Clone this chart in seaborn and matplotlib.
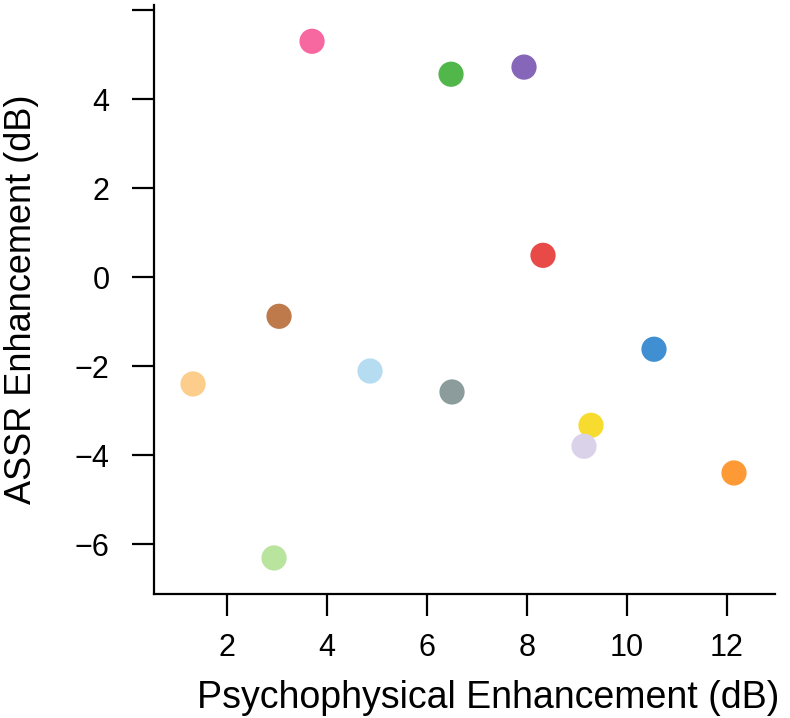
import matplotlib
matplotlib.use("Agg")
import matplotlib.pyplot as plt
import seaborn as sns
import pandas as pd

psych = [3.70, 6.48, 7.94, 8.32, 3.04, 10.54, 1.32, 4.86, 6.50, 9.28, 9.14, 12.14, 2.94]
assr = [5.30, 4.56, 4.72, 0.49, -0.88, -1.62, -2.40, -2.11, -2.58, -3.33, -3.80, -4.40, -6.31]
subjects = [f"S{i+1}" for i in range(len(psych))]
colors = ["#F768A1", "#52B74B", "#8566B8", "#E84A47", "#BF7A4C", "#3F8FD2", "#FDCD8C",
          "#B5DCF0", "#8C9C9C", "#F7DC2F", "#D9D2E9", "#FD9A35", "#B9E49E"]
xticks = [2, 4, 6, 8, 10, 12]
yticks = [-6, -4, -2, 0, 2, 4, 6]
yticklabels = ["\u22126", "\u22124", "\u22122", "0", "2", "4", ""]

df = pd.DataFrame({"psych": psych, "assr": assr, "subject": subjects})

sns.set_style("ticks")
plt.rcParams["font.family"] = ["Liberation Sans", "DejaVu Sans"]

fig = plt.figure(figsize=(7.9, 7.18), dpi=100)
ax = fig.add_axes([0.195, 0.1727, 0.786, 0.820])
sns.scatterplot(data=df, x="psych", y="assr", hue="subject", palette=colors,
                s=330, linewidth=0, legend=False, ax=ax)

ax.set_xlim(0.54, 12.96)
ax.set_ylim(-7.12, 6.11)
ax.set_xticks(xticks)
ax.set_xticklabels([str(t) for t in xticks])
ax.set_yticks(yticks)
ax.set_yticklabels(yticklabels)
for s in ["top", "right"]:
    ax.spines[s].set_visible(False)
for s in ["left", "bottom"]:
    ax.spines[s].set_linewidth(1.6)
    ax.spines[s].set_color("black")
ax.tick_params(axis="both", direction="out", length=16, width=1.6, colors="black",
               labelsize=22)
ax.tick_params(axis="x", pad=12)
ax.tick_params(axis="y", pad=16)
ax.set_xlabel("Psychophysical Enhancement (dB)", fontsize=27, color="black")
ax.set_ylabel("ASSR Enhancement (dB)", fontsize=26, color="black")
ax.xaxis.set_label_coords(0.538, -0.146)
ax.yaxis.set_label_coords(-0.185, 0.5)

fig.savefig("out.png", dpi=100)
